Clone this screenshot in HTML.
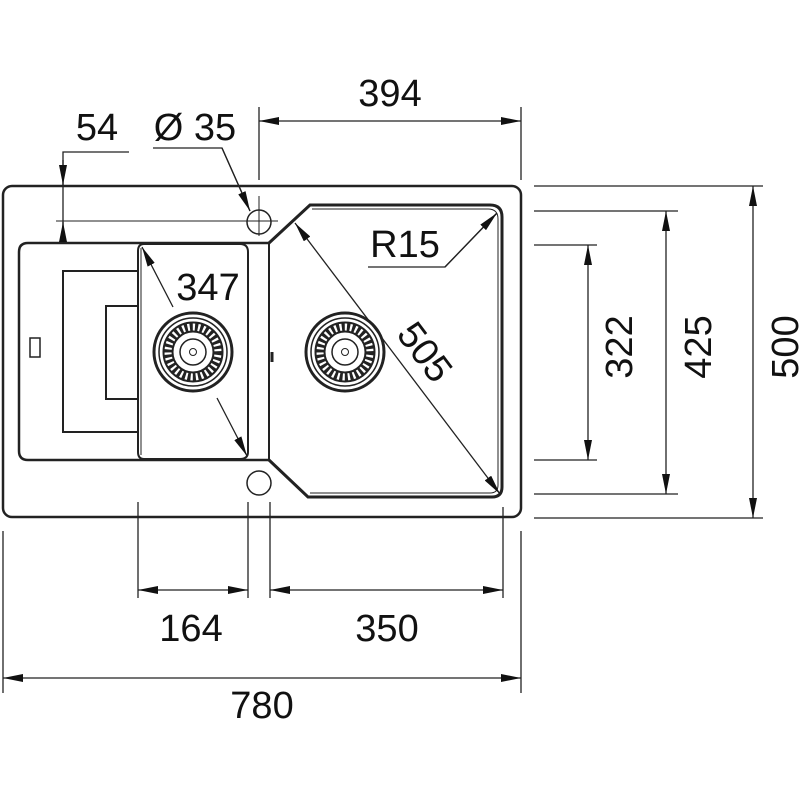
<!DOCTYPE html>
<html><head><meta charset="utf-8"><style>html,body{margin:0;padding:0;background:#fff}svg{display:block}text{font-family:"Liberation Sans",Arial,sans-serif;fill:#111}</style></head><body>
<svg width="800" height="800" viewBox="0 0 800 800" xmlns="http://www.w3.org/2000/svg">
<defs>
<marker id="a" viewBox="0 0 20 8" refX="20" refY="4" markerWidth="20" markerHeight="8" markerUnits="userSpaceOnUse" orient="auto-start-reverse"><path d="M0,0 L20,4 L0,8 Z" fill="#111"/></marker>
</defs>
<g fill="none" stroke="#222">
<rect x="3" y="186" width="518" height="331" rx="9" stroke-width="2.5"/>
<path d="M270,243 L28,243 Q19,243 19,252 L19,451 Q19,460 28,460 L270,460" stroke-width="2.5"/>
<line x1="269" y1="243" x2="269" y2="460" stroke-width="2"/>
<path d="M138,271 L63,271 L63,432 L138,432" stroke-width="2"/>
<path d="M138,306 L106,306 L106,399 L138,399" stroke-width="2"/>
<rect x="30" y="338" width="10" height="19" stroke-width="1.5"/>
<path d="M144,244 L240,244 Q248,244 248,252 L248,452 Q248,459 240,459 L144,459 Q138,459 138,452 L138,251 Q138,244 144,244" stroke-width="2"/>
<line x1="141" y1="248" x2="141" y2="455" stroke-width="1"/>
<path d="M269,243 L310,205 L490,205 Q502,205 502,217 L502,487 Q502,497 492,497 L308,497 L269,460" stroke-width="3"/>
<path d="M312,209 L488,209 Q498,209 498,219 L498,485 Q498,493 490,493 L310,493" stroke-width="1"/>
<line x1="272" y1="352" x2="272" y2="362" stroke-width="3"/>
<circle cx="259" cy="222" r="12" stroke-width="1.5"/>
<circle cx="259" cy="483" r="12" stroke-width="1.5"/>
<line x1="56" y1="221" x2="278" y2="221" stroke-width="1"/>
<line x1="259" y1="196" x2="259" y2="236" stroke-width="1"/>
</g>
<g fill="none" stroke="#222">
<g transform="translate(193,352)">
<circle r="39" stroke-width="3"/><circle r="34" stroke-width="1.5"/>
<circle r="25" stroke-width="9" stroke-dasharray="3 2.2"/><circle r="29.5" stroke-width="2"/><circle r="20.5" stroke-width="2"/>
<circle r="13" stroke-width="1.5"/><circle r="3.5" stroke-width="1"/>
</g>
<g transform="translate(345,352)">
<circle r="39" stroke-width="3"/><circle r="34" stroke-width="1.5"/>
<circle r="25" stroke-width="9" stroke-dasharray="3 2.2"/><circle r="29.5" stroke-width="2"/><circle r="20.5" stroke-width="2"/>
<circle r="13" stroke-width="1.5"/><circle r="3.5" stroke-width="1"/>
</g>
</g>
<g stroke="#222" stroke-width="1.3" fill="none">
<line x1="259" y1="107" x2="259" y2="180"/><line x1="521" y1="107" x2="521" y2="180"/>
<line x1="259" y1="121" x2="521" y2="121" marker-start="url(#a)" marker-end="url(#a)"/>
<polyline points="129,152 63,152 63,244"/>
<line x1="63" y1="160" x2="63" y2="185" marker-end="url(#a)"/>
<line x1="63" y1="244" x2="63" y2="222" marker-end="url(#a)"/>
<polyline points="153,148 222,148 250,211" />
<line x1="222" y1="148" x2="250" y2="211" marker-end="url(#a)"/>
<line x1="173" y1="307" x2="142" y2="247" marker-end="url(#a)"/>
<line x1="217" y1="398" x2="247" y2="456" marker-end="url(#a)"/>
<line x1="295" y1="223" x2="500" y2="494" marker-start="url(#a)" marker-end="url(#a)"/>
<polyline points="368,267 445,267 497,213"/>
<line x1="445" y1="267" x2="497" y2="213" marker-end="url(#a)"/>
<line x1="534" y1="186" x2="763" y2="186"/><line x1="534" y1="518" x2="763" y2="518"/>
<line x1="753" y1="186" x2="753" y2="518" marker-start="url(#a)" marker-end="url(#a)"/>
<line x1="534" y1="211" x2="678" y2="211"/><line x1="534" y1="494" x2="678" y2="494"/>
<line x1="666" y1="211" x2="666" y2="494" marker-start="url(#a)" marker-end="url(#a)"/>
<line x1="534" y1="245" x2="597" y2="245"/><line x1="534" y1="460" x2="597" y2="460"/>
<line x1="588" y1="245" x2="588" y2="460" marker-start="url(#a)" marker-end="url(#a)"/>
<line x1="138" y1="502" x2="138" y2="598"/><line x1="248" y1="502" x2="248" y2="598"/>
<line x1="270" y1="502" x2="270" y2="598"/><line x1="503" y1="507" x2="503" y2="598"/>
<line x1="138" y1="590" x2="248" y2="590" marker-start="url(#a)" marker-end="url(#a)"/>
<line x1="270" y1="590" x2="503" y2="590" marker-start="url(#a)" marker-end="url(#a)"/>
<line x1="3" y1="531" x2="3" y2="693"/><line x1="521" y1="531" x2="521" y2="693"/>
<line x1="3" y1="678" x2="521" y2="678" marker-start="url(#a)" marker-end="url(#a)"/>
</g>
<g font-size="38" text-anchor="middle">
<text x="390" y="106">394</text>
<text x="97" y="140">54</text>
<text x="195" y="140">Ø 35</text>
<text x="208" y="300">347</text>
<text x="405" y="257">R15</text>
<text transform="translate(425,352) rotate(53)" y="13">505</text>
<text transform="translate(619,347) rotate(-90)" y="13">322</text>
<text transform="translate(698,347) rotate(-90)" y="13">425</text>
<text transform="translate(785,347) rotate(-90)" y="13">500</text>
<text x="191" y="641">164</text>
<text x="387" y="641">350</text>
<text x="262" y="718">780</text>
</g>
</svg>
</body></html>
